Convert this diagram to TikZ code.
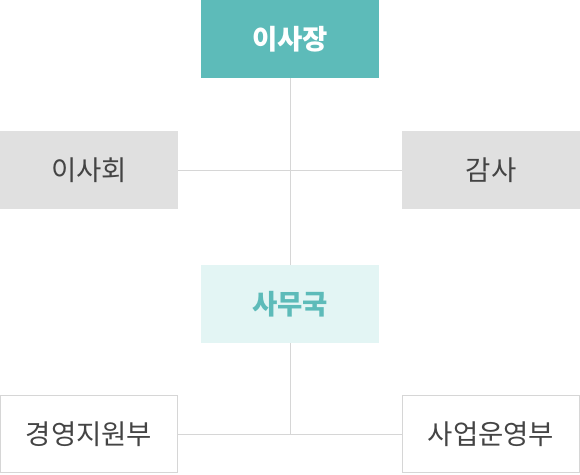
\documentclass[tikz,border=0pt]{standalone}
\usepackage{fontspec}
\setmainfont{Noto Sans CJK KR}
\definecolor{teal}{HTML}{5DBBB9}
\definecolor{paleteal}{HTML}{E3F5F4}
\definecolor{boxgray}{HTML}{E0E0E0}
\definecolor{linegray}{HTML}{D6D6D6}
\definecolor{textgray}{HTML}{444444}
\tikzset{
  unit/.style={minimum width=178pt, minimum height=78pt, inner sep=0pt,
    font=\fontsize{27.5}{28}\selectfont},
  head/.style={unit, fill=teal, text=white, font=\fontsize{27.5}{28}\selectfont\bfseries},
  office/.style={unit, fill=paleteal, text=teal, font=\fontsize{27.5}{28}\selectfont\bfseries},
  board/.style={unit, fill=boxgray, text=textgray},
  dept/.style={unit, draw=linegray, line width=1pt, minimum width=177pt, minimum height=77pt, fill=white, text=textgray},
}
\begin{document}
\begin{tikzpicture}[x=1pt, y=-1pt]
  \useasboundingbox (0,0) rectangle (580,474);
  \begin{scope}[-, draw=linegray, line width=1pt]
    \draw (290,78) -- (290,265);
    \draw (178,170) -- (402,170);
    \draw (290,343) -- (290,434);
    \draw (178,434) -- (402,434);
  \end{scope}
  \draw
    (290,39) node[head] (chair){이사장}
    (89,170) node[board] (board){이사회}
    (491,170) node[board] (audit){감사}
    (290,304) node[office] (office){사무국}
    (89,434) node[dept] (mgmt){경영지원부}
    (491,434) node[dept] (biz){사업운영부};
\end{tikzpicture}
\end{document}
